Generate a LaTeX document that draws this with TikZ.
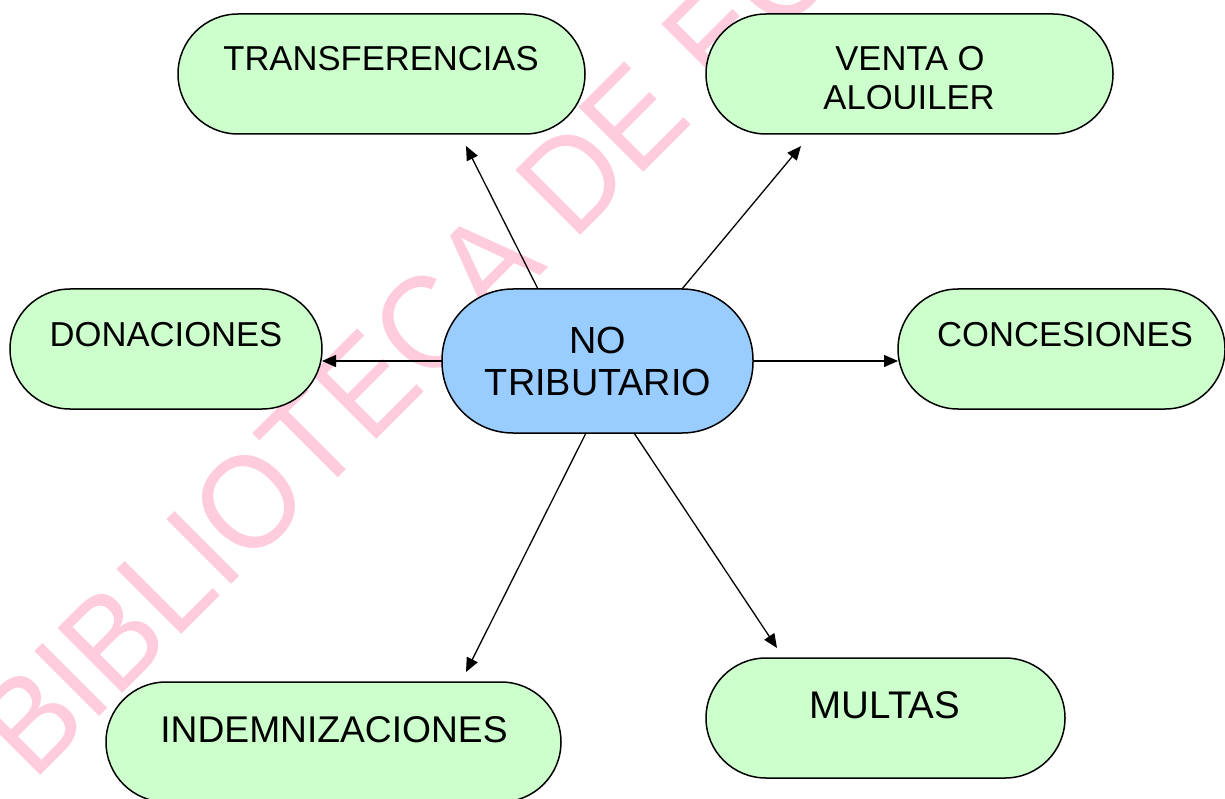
\documentclass[tikz,border=0pt]{standalone}
\usepackage{fontspec}
\setmainfont{Liberation Sans}
\usetikzlibrary{arrows.meta}
\definecolor{wm}{HTML}{FFCCDD}
\definecolor{gb}{HTML}{CCFFCC}
\definecolor{bb}{HTML}{99CCFF}
\tikzset{x=1pt,y=-1pt,
 box/.style={draw=black,line width=1.5pt,fill=gb},
 lab/.style={font=\fontsize{34.6}{40}\selectfont,align=center,inner sep=0pt,anchor=base},
 big/.style={font=\fontsize{37.2}{42}\selectfont},
 ctr/.style={font=\fontsize{37.8}{42}\selectfont},
 con/.style={draw=black,line width=1.3pt,-{Triangle[length=14pt,width=12pt]}}}
\begin{document}
\begin{tikzpicture}
\useasboundingbox (0,0) rectangle (1225,799);
\fill[white] (0,0) rectangle (1225,799);
\begin{scope}
\clip (0,0) rectangle (1225,799);
\node[rotate=45,xscale=.968,yscale=1.04,text=wm,font=\fontsize{128}{128}\selectfont,inner sep=0pt,anchor=base west] (wmk) at (33,783) {BIBLIOTECA DE EC};
\end{scope}
\path[box,rounded corners=60pt] (178,14) rectangle (585,134);
\path[box,rounded corners=60pt] (706,14) rectangle (1113,134);
\path[box,rounded corners=60pt] (10,289) rectangle (322,409);
\path[box,rounded corners=60pt] (898,289) rectangle (1225,409);
\path[box,rounded corners=60pt] (106,682) rectangle (561,802);
\path[box,rounded corners=60pt] (706,658) rectangle (1065,778);
\path[box,fill=bb,rounded corners=71pt] (442,289) rectangle (753,433);
\node[lab] (l1) at (381,71) {TRANSFERENCIAS};
\node[lab] (l2) at (910,71) {VENTA O};
\begin{scope}
\clip (700,75) rectangle (1113,108.7);
\node[lab] (l3) at (909,110) {ALQUILER};
\end{scope}
\node[lab] (l4) at (166,346) {DONACIONES};
\node[lab] (l5) at (1065,346) {CONCESIONES};
\node[lab,big] (l6) at (334,742) {INDEMNIZACIONES};
\node[lab,font=\fontsize{38.5}{42}\selectfont] (l7) at (885,718) {MULTAS};
\node[lab,ctr] (l8) at (598,353) {NO};
\node[lab,ctr] (l9) at (598,395) {TRIBUTARIO};
\coordinate (a1) at (466,146); \coordinate (a2) at (801,146);
\coordinate (a3) at (322,361); \coordinate (a4) at (898,361);
\coordinate (a5) at (466,672); \coordinate (a6) at (777,648);
\coordinate (b1) at (538,289); \coordinate (b2) at (682,289);
\coordinate (b3) at (442,361); \coordinate (b4) at (753,361);
\coordinate (b5) at (586,433); \coordinate (b6) at (634,433);
\draw[con] (b1)--(a1); \draw[con] (b2)--(a2); \draw[con] (b3)--(a3);
\draw[con] (b4)--(a4); \draw[con] (b5)--(a5); \draw[con] (b6)--(a6);
\end{tikzpicture}
\end{document}
